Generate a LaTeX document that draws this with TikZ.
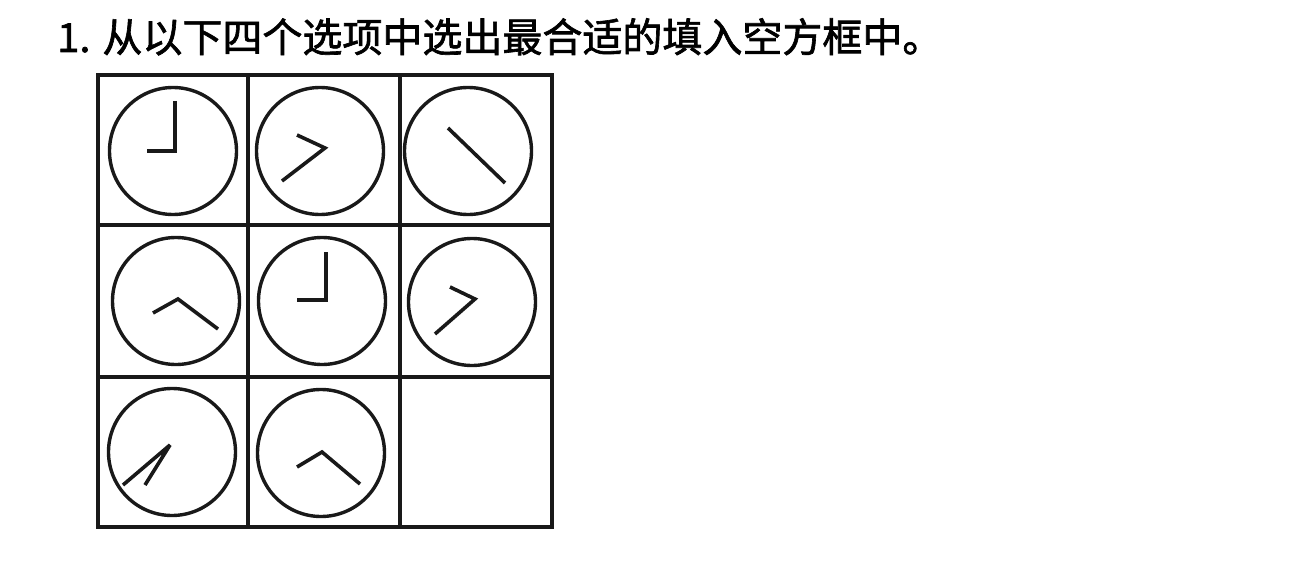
\documentclass[tikz,border=0pt]{standalone}
\usepackage{fontspec}
\newfontfamily\cjk[FakeBold=1.6]{Noto Sans CJK SC}
\begin{document}
\begin{tikzpicture}[x=1pt,y=-1pt,
  gridline/.style={line width=3.5pt,draw=black!90},
  clock/.style={circle,draw=black!90,line width=3.4pt,minimum size=127pt,inner sep=0pt},
  hand/.style={line width=3.6pt,draw=black!90,line join=miter,miter limit=3}]
\useasboundingbox[fill=white] (0,0) rectangle (1294,578);
\node[anchor=base west,inner sep=0pt,font=\cjk\fontsize{40}{44}\selectfont] (title) at (57,52) {1. 从以下四个选项中选出最合适的填入空方框中。};
% grid
\draw[gridline] (98,75) rectangle (552,527);
\draw[gridline] (248,75) -- (248,527);
\draw[gridline] (400,75) -- (400,527);
\draw[gridline] (98,225) -- (552,225);
\draw[gridline] (98,377) -- (552,377);
% clocks
\node[clock] (c1) at (173,151) {};
\node[clock] (c2) at (320,151) {};
\node[clock] (c3) at (468,151) {};
\node[clock] (c4) at (176,301) {};
\node[clock] (c5) at (322,301) {};
\node[clock] (c6) at (472,302) {};
\node[clock] (c7) at (172,452) {};
\node[clock] (c8) at (321,453) {};
% hands
\draw[hand] (175,101) -- (175,151) -- (147,151);
\draw[hand] (297,135) -- (325,148) -- (282,181);
\draw[hand] (448,128) -- (505,183);
\draw[hand] (153,313) -- (178,299) -- (218,329);
\draw[hand] (326,252) -- (326,300) -- (297,300);
\draw[hand] (450,287) -- (475,299) -- (435,334);
\draw[hand] (123,485) -- (170,445) -- (145,485);
\draw[hand] (297,467) -- (322,452) -- (360,484);
\end{tikzpicture}
\end{document}
